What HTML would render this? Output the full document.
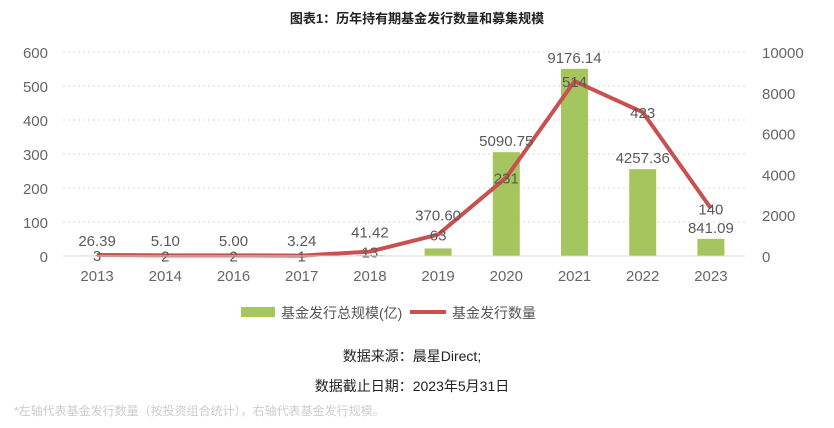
<!DOCTYPE html>
<html><head><meta charset="utf-8"><style>
body{margin:0;background:#fff;width:834px;height:423px;overflow:hidden;font-family:"Liberation Sans","Noto Sans CJK SC",sans-serif}
</style></head><body>
<svg width="834" height="423" xmlns="http://www.w3.org/2000/svg" font-family="Liberation Sans, Noto Sans CJK SC, sans-serif">
<text x="417" y="23" text-anchor="middle" font-size="13" font-weight="bold" fill="#222">图表1：历年持有期基金发行数量和募集规模</text>
<g id="grid"></g><g id="bars"></g><g id="line"></g><g id="labels"></g><g id="axes"></g>
<g>
<rect x="241" y="307" width="34" height="10" fill="#a5c55e"/>
<text x="281" y="318" font-size="14" fill="#555">基金发行总规模(亿)</text>
<line x1="410" y1="312" x2="446" y2="312" stroke="#c9504f" stroke-width="4"/>
<text x="452" y="318" font-size="14" fill="#555">基金发行数量</text>
</g>
<text x="412" y="361" text-anchor="middle" font-size="14" fill="#222">数据来源：晨星Direct;</text>
<text x="412" y="391" text-anchor="middle" font-size="14" fill="#222">数据截止日期：2023年5月31日</text>
<text x="14" y="415" font-size="12" fill="#ccc">*左轴代表基金发行数量（按投资组合统计），右轴代表基金发行规模。</text>
</svg>
<script>
const categories=["2013","2014","2016","2017","2018","2019","2020","2021","2022","2023"];
const scaleValues=[26.39,5.10,5.00,3.24,41.42,370.60,5090.75,9176.14,4257.36,841.09];
const scaleLabels=["26.39","5.10","5.00","3.24","41.42","370.60","5090.75","9176.14","4257.36","841.09"];
const countValues=[3,2,2,1,13,63,231,514,423,140];
const leftTicks=[0,100,200,300,400,500,600];
const rightTicks=[0,2000,4000,6000,8000,10000];
const NS="http://www.w3.org/2000/svg";
const x0=63,x1=745,yB=256,yT=52;
const band=(x1-x0)/categories.length;
const xc=i=>x0+band*(i+0.5);
const yL=v=>yB-(v/600)*(yB-yT);
const yR=v=>yB-(v/10000)*(yB-yT);
function mk(tag,attrs,parent){const e=document.createElementNS(NS,tag);for(const k in attrs)e.setAttribute(k,attrs[k]);document.getElementById(parent).appendChild(e);return e;}
leftTicks.forEach((t,i)=>{
 if(t>0){const g=mk('line',{x1:x0,x2:x1,y1:yL(t),y2:yL(t),stroke:'#d9d9d9','stroke-dasharray':'2,3'},'grid');
 
 }
 const l=mk('text',{x:48,y:yL(t)+6,'text-anchor':'end','font-size':15,fill:'#666'},'axes');l.textContent=t;
 
 
});
rightTicks.forEach(t=>{
 const l=mk('text',{x:762,y:yR(t)+6,'font-size':15,fill:'#666'},'axes');l.textContent=t;
 
 
});
const ax=mk('line',{x1:x0,x2:x1,y1:yB,y2:yB,stroke:'#d9d9d9'},'axes');


categories.forEach((c,i)=>{
 const l=mk('text',{x:xc(i),y:281,'text-anchor':'middle','font-size':15,fill:'#666'},'axes');l.textContent=c;
 
 
 const y=yR(scaleValues[i]);
 const b=mk('rect',{x:xc(i)-13.5,y:y,width:27,height:yB-y,fill:'#a5c55e'},'bars');
 
 
 const cy=yL(countValues[i])+6;
 let by=Math.min(y-6,246);
 if(Math.abs(by-cy)<14) by=cy-20;
 const bl=mk('text',{x:xc(i),y:by,'text-anchor':'middle','font-size':15,fill:'#595959'},'labels');bl.textContent=scaleLabels[i];
 
 
 const cl=mk('text',{x:xc(i),y:cy,'text-anchor':'middle','font-size':15,fill:'#595959'},'labels');cl.textContent=countValues[i];
 
 
});
const p=mk('polyline',{points:countValues.map((v,i)=>xc(i)+','+yL(v)).join(' '),fill:'none',stroke:'#c9504f','stroke-width':4,'stroke-linejoin':'round'},'line');


</script>
</body></html>
